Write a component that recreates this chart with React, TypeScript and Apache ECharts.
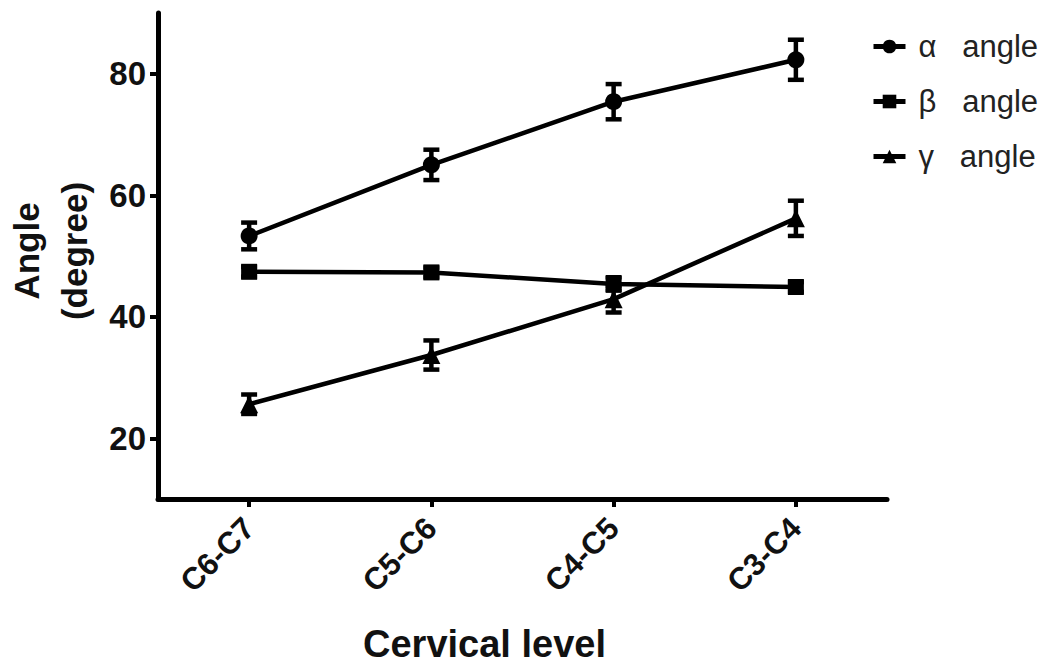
import React, { useEffect, useRef } from "react";
import * as echarts from "echarts";

const categories = ["C6-C7", "C5-C6", "C4-C5", "C3-C4"];
const seriesNames = ["α   angle", "β   angle", "γ   angle"];
const alphaMean = [53.3, 65.0, 75.4, 82.3];
const alphaErr = [2.2, 2.5, 2.9, 3.3];
const betaMean = [47.4, 47.3, 45.4, 44.9];
const betaErr = [0.8, 0.8, 1.1, 0.8];
const gammaMean = [25.6, 33.7, 42.9, 56.2];
const gammaErr = [1.6, 2.4, 2.2, 2.9];
const yTicks = [20, 40, 60, 80];

const FONT = "'Liberation Sans', Arial, sans-serif";

function errorSeries(means: number[], errs: number[]) {
  const data = means.map((m, i) => [i, m - errs[i], m + errs[i]]);
  return {
    type: "custom",
    silent: true,
    z: 3,
    data,
    renderItem: (params: any, api: any) => {
      const x = api.value(0);
      const lo = api.coord([x, api.value(1)]);
      const hi = api.coord([x, api.value(2)]);
      const cap = 8;
      const style = { stroke: "#000", lineWidth: 4.5 };
      return {
        type: "group",
        children: [
          { type: "line", shape: { x1: lo[0], y1: lo[1], x2: hi[0], y2: hi[1] }, style },
          { type: "line", shape: { x1: lo[0] - cap, y1: lo[1], x2: lo[0] + cap, y2: lo[1] }, style },
          { type: "line", shape: { x1: hi[0] - cap, y1: hi[1], x2: hi[0] + cap, y2: hi[1] }, style },
        ],
      };
    },
  };
}

export default function App() {
  const ref = useRef<HTMLDivElement>(null);
  useEffect(() => {
    if (!ref.current) return;
    const chart = echarts.init(ref.current, undefined, { renderer: "svg" });
    const lineCommon = {
      type: "line",
      lineStyle: { color: "#000", width: 4.5 },
      itemStyle: { color: "#000" },
      z: 4,
    };
    chart.setOption({
      animation: false,
      backgroundColor: "#fff",
      grid: { left: 158, right: 165, top: 13, bottom: 165, containLabel: false, outerBoundsMode: "none" },
      legend: {
        orient: "vertical",
        left: 866,
        top: 26,
        itemGap: 24,
        itemWidth: 32,
        itemHeight: 17,
        lineStyle: { width: 5 },
        textStyle: { fontFamily: FONT, fontSize: 31, color: "#222", padding: [0, 0, 0, 8] },
        data: seriesNames,
      },
      xAxis: {
        type: "category",
        data: categories,
        boundaryGap: true,
        axisLine: { lineStyle: { color: "#000", width: 5 } },
        axisTick: { show: true, alignWithLabel: true, length: 8, lineStyle: { color: "#000", width: 4 } },
        axisLabel: {
          rotate: 45,
          margin: 24,
          fontFamily: FONT,
          fontWeight: "bold",
          fontSize: 31,
          color: "#111",
        },
        name: "Cervical level",
        nameLocation: "middle",
        nameGap: 126,
        nameTextStyle: {
          fontFamily: FONT,
          fontWeight: "bold",
          fontSize: 38,
          color: "#111",
          padding: [0, 76, 0, 0],
        },
      },
      yAxis: {
        type: "value",
        min: 10,
        max: 90,
        splitLine: { show: false },
        axisLine: { show: true, lineStyle: { color: "#000", width: 5 } },
        axisTick: { show: true, length: 8, customValues: yTicks, lineStyle: { color: "#000", width: 4 } },
        axisLabel: {
          customValues: yTicks,
          margin: 12,
          fontFamily: FONT,
          fontWeight: "bold",
          fontSize: 33,
          color: "#111",
        },
        name: "Angle\n(degree)",
        nameLocation: "middle",
        nameRotate: 90,
        nameGap: 60,
        nameTextStyle: {
          fontFamily: FONT,
          fontWeight: "bold",
          fontSize: 35,
          color: "#111",
          lineHeight: 48,
          padding: [0, 0, 0, 10],
        },
      },
      series: [
        { ...lineCommon, name: seriesNames[0], data: alphaMean, symbol: "circle", symbolSize: 17 },
        { ...lineCommon, name: seriesNames[1], data: betaMean, symbol: "rect", symbolSize: 16 },
        { ...lineCommon, name: seriesNames[2], data: gammaMean, symbol: "triangle", symbolSize: 18 },
        errorSeries(alphaMean, alphaErr),
        errorSeries(betaMean, betaErr),
        errorSeries(gammaMean, gammaErr),
      ],
    });
    return () => chart.dispose();
  }, []);
  return (
    <div
      ref={ref}
      style={{ position: "absolute", left: 0, top: 0, width: 1052, height: 664 }}
    />
  );
}
